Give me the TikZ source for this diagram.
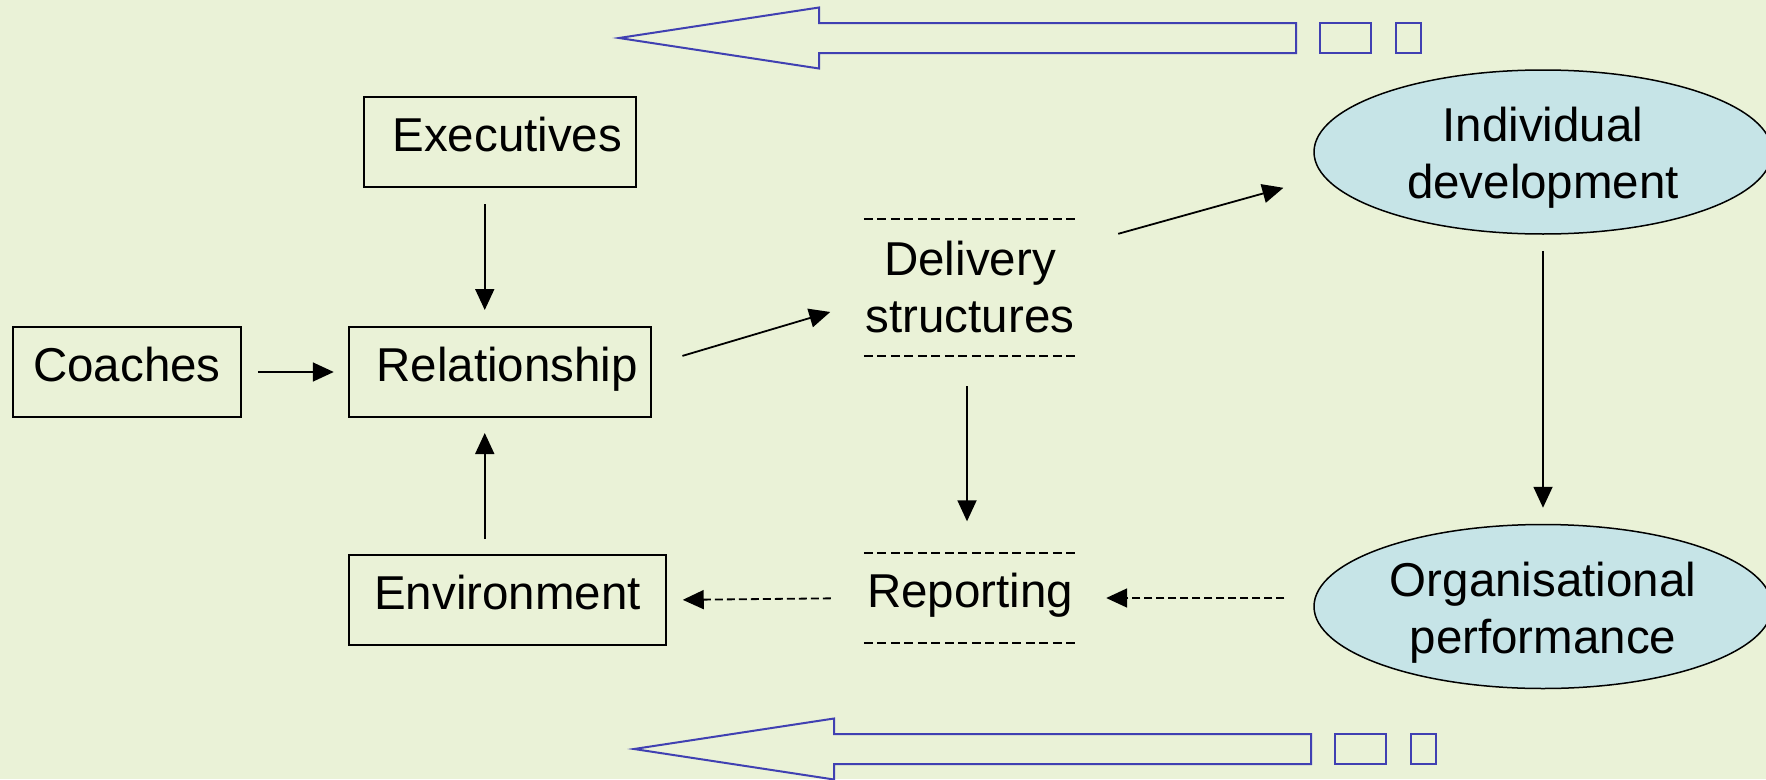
\documentclass[tikz,border=0pt]{standalone}
\usepackage{fontspec}
\setmainfont{Liberation Sans}
\usetikzlibrary{arrows.meta,positioning,shapes.geometric}
\definecolor{slidebg}{RGB}{234,242,215}
\definecolor{goalfill}{RGB}{198,228,231}
\definecolor{backblue}{RGB}{64,64,178}
\tikzset{
    unitbox/.style={draw, line width=2pt, inner sep=0pt, minimum height=90pt,
        text height=34pt, text depth=15pt},
    padleft/.style={execute at begin node={\hspace*{15pt}}},
    tierbox/.style={inner sep=0pt, minimum width=212pt, align=center},
    goalnode/.style={ellipse, draw, line width=1.5pt, fill=goalfill, inner sep=0pt,
        minimum width=458pt, minimum height=164pt, align=center,
        text height=103pt, text depth=10pt},
    tierline/.style={line width=1.8pt, dash pattern=on 9pt off 4.5pt},
    link/.style={-{Triangle[length=21pt,width=19pt]}, line width=1.8pt,
        shorten <=15pt, shorten >=15pt},
    backlink/.style={link, dash pattern=on 8pt off 4pt},
    pics/backarrow/.style={code={
        \draw[backblue, line width=2pt] (0,0) -- (200,-30.5) -- (200,-15) -- (677,-15)
            -- (677,15) -- (200,15) -- (200,30.5) -- cycle;
        \draw[backblue, line width=2pt] (701,-15) rectangle (752,15);
        \draw[backblue, line width=2pt] (777,-15) rectangle (802,15);
    }}
}

\begin{document}
\begin{tikzpicture}[x=1pt, y=-1pt, font=\fontsize{47.5}{57}\selectfont, node distance=106pt]
\path[use as bounding box, fill=slidebg] (0,0) rectangle (1766,779);
\pic at (619,38) {backarrow};
\pic at (634,749) {backarrow};

\node[unitbox, minimum width=227.5pt] (coach) at (127,372) {Coaches};
\node[unitbox, padleft, minimum width=302pt, right=of coach] (rel) {Relationship};
\node[unitbox, padleft, minimum width=272.5pt, above=138pt of rel] (exec) {Executives};
\node[unitbox, minimum width=317.5pt, below right=136pt and 0pt of rel.south west] (env) {Environment};

\node[tierbox, minimum height=137pt] (deliv) at (970,287.5) {Delivery\\structures};
\node[tierbox, minimum height=90pt, text height=34pt, text depth=15pt] (report) at (970,598) {Reporting};
\foreach \t in {deliv,report}{
    \draw[tierline] (\t.north west) -- (\t.north east);
    \draw[tierline] (\t.south west) -- (\t.south east);
}

\node[goalnode] (indiv) at (1543,152) {Individual\\development};
\node[goalnode, below=289pt of indiv] (org) {Organisational\\performance};

\draw[link, shorten <=16pt, shorten >=14pt] (coach) -- (rel);
\draw[link, shorten <=16pt, shorten >=16pt] ([xshift=-15pt]exec.south) -- ([xshift=-15pt]rel.north);
\draw[link] ([xshift=-22.75pt]env.north) -- ([xshift=-15pt]rel.south);
\draw[link, shorten <=32pt, shorten >=35pt] ([yshift=7pt]rel.east) -- ([yshift=-14.5pt]deliv.west);
\draw[link, shorten <=43.6pt, shorten >=31pt] ([yshift=42pt]deliv.east) -- ([yshift=-27.5pt]indiv.west);
\draw[link, shorten <=30pt, shorten >=31.5pt] ([xshift=-3pt]deliv.south) -- ([xshift=-3pt]report.north);
\draw[link, shorten <=16pt, shorten >=16pt] (indiv) -- (org);
\draw[backlink, shorten <=29pt, shorten >=30pt] (report.east -| org.west) -- (report.east);
\draw[backlink, shorten <=33pt, shorten >=15.5pt] (report.west) -- (env.east);
\end{tikzpicture}
\end{document}
